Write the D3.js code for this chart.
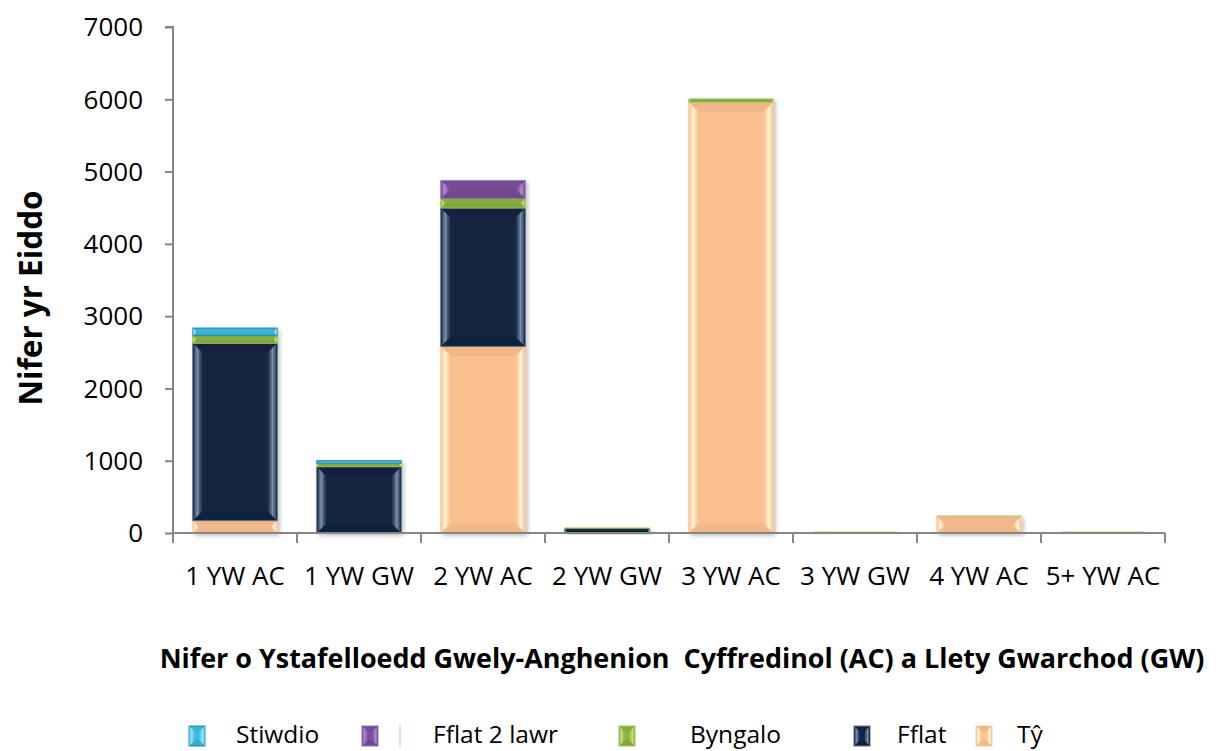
<!DOCTYPE html>
<html>
<head>
<meta charset="utf-8">
<script src="https://cdn.jsdelivr.net/npm/d3@7"></script>
<style>
  html, body { margin: 0; padding: 0; background: #fff; }
  svg { display: block; font-family: "Open Sans", "Liberation Sans", sans-serif; }
</style>
</head>
<body>
<svg id="chart" width="1217" height="751"></svg>
<script>
// ---- data ----
const categories = ["1 YW AC", "1 YW GW", "2 YW AC", "2 YW GW", "3 YW AC", "3 YW GW", "4 YW AC", "5+ YW AC"];
const ty        = [170,    0, 2580,  5, 5960, 8, 230, 8];
const fflat     = [2457, 918, 1917, 55,    0, 5,   0, 0];
const byngalo   = [102,   47,  129, 15,   45, 5,  10, 10];
const fflat2    = [0,      0,  249,  0,    0, 0,   0, 0];
const stiwdio   = [106,   36,    0,  0,    0, 0,   0, 0];
const seriesNames = ["Tŷ", "Fflat", "Byngalo", "Fflat 2 lawr", "Stiwdio"];   // bottom -> top
const legendOrder = ["Stiwdio", "Fflat 2 lawr", "Byngalo", "Fflat", "Tŷ"];
const yTicks = [0, 1000, 2000, 3000, 4000, 5000, 6000, 7000];
const yTitle = "Nifer yr Eiddo";
const xTitle = "Nifer o Ystafelloedd Gwely-Anghenion  Cyffredinol (AC) a Llety Gwarchod (GW)";

// ---- styles ----
const colors = { "Tŷ": "#FAC090", "Fflat": "#132641", "Byngalo": "#8DB53A", "Fflat 2 lawr": "#7A4F9C", "Stiwdio": "#3CBCE0" };
const lights = { "Tŷ": "#FFF6D6", "Fflat": "#7C90AC", "Byngalo": "#C6E27A", "Fflat 2 lawr": "#B08AD0", "Stiwdio": "#9CE6FA" };
const borders = { "Tŷ": "#F7D2AE", "Fflat": "#6A7C93", "Byngalo": "#A8C870", "Fflat 2 lawr": "#9A7AB8", "Stiwdio": "#2C8AA8" };
const bottomShade = { "Tŷ": 0.03, "Fflat": 0.1, "Byngalo": 0.08, "Fflat 2 lawr": 0.08, "Stiwdio": 0.08 };

const valuesBy = { "Tŷ": ty, "Fflat": fflat, "Byngalo": byngalo, "Fflat 2 lawr": fflat2, "Stiwdio": stiwdio };
const table = categories.map((c, i) => {
  const row = { cat: c };
  seriesNames.forEach(s => row[s] = valuesBy[s][i]);
  return row;
});

const svg = d3.select("#chart");
const pLeft = 173, pRight = 1165, pTop = 27, pBottom = 533;

const x = d3.scaleBand().domain(categories).range([pLeft, pRight]).paddingInner(0.32).paddingOuter(0.16);
const y = d3.scaleLinear().domain([0, 7000]).range([pBottom, pTop]);

const stack = d3.stack().keys(seriesNames)(table);

// defs: gradients + shadow
const defs = svg.append("defs");
const f = defs.append("filter").attr("id", "shadow").attr("x", "-10%").attr("y", "-10%").attr("width", "130%").attr("height", "130%");
f.append("feDropShadow").attr("dx", 2).attr("dy", 2).attr("stdDeviation", 2).attr("flood-color", "#000").attr("flood-opacity", 0.25);

seriesNames.forEach((s, i) => {
  const gl = defs.append("linearGradient").attr("id", "gl" + i).attr("x1", 0).attr("x2", 1).attr("y1", 0).attr("y2", 0);
  gl.append("stop").attr("offset", "0%").attr("stop-color", colors[s]);
  gl.append("stop").attr("offset", "45%").attr("stop-color", lights[s]);
  gl.append("stop").attr("offset", "100%").attr("stop-color", colors[s]).attr("stop-opacity", 0.6);
  const gr = defs.append("linearGradient").attr("id", "gr" + i).attr("x1", 1).attr("x2", 0).attr("y1", 0).attr("y2", 0);
  gr.append("stop").attr("offset", "0%").attr("stop-color", colors[s]);
  gr.append("stop").attr("offset", "45%").attr("stop-color", lights[s]);
  gr.append("stop").attr("offset", "100%").attr("stop-color", colors[s]).attr("stop-opacity", 0.6);
});

// bevelled box
function bevel(g, bx, by, bw, bh, s, i, maxB) {
  if (bh <= 0) return;
  const b = Math.min(maxB, bh / 2, bw / 2);
  g.append("rect").attr("x", bx).attr("y", by).attr("width", bw).attr("height", bh)
    .attr("fill", colors[s]).attr("stroke", borders[s]).attr("stroke-width", bh > 2 ? 1 : 0);
  if (bh < 3) return;
  g.append("polygon").attr("points", [[bx, by], [bx + bw, by], [bx + bw - b, by + b], [bx + b, by + b]].join(" "))
    .attr("fill", "#000").attr("opacity", 0.04);
  g.append("polygon").attr("points", [[bx, by + bh], [bx + bw, by + bh], [bx + bw - b, by + bh - b], [bx + b, by + bh - b]].join(" "))
    .attr("fill", "#000").attr("opacity", bottomShade[s]);
  g.append("polygon").attr("points", [[bx, by], [bx + b, by + b], [bx + b, by + bh - b], [bx, by + bh]].join(" "))
    .attr("fill", `url(#gl${i})`);
  g.append("polygon").attr("points", [[bx + bw, by], [bx + bw - b, by + b], [bx + bw - b, by + bh - b], [bx + bw, by + bh]].join(" "))
    .attr("fill", `url(#gr${i})`);
}

// bars
const barsG = svg.append("g");
categories.forEach((c, ci) => {
  const g = barsG.append("g").attr("filter", "url(#shadow)");
  stack.forEach((layer, si) => {
    const d = layer[ci];
    const y0 = y(d[0]), y1 = y(d[1]);
    const h = y0 - y1;
    if (h <= 0) return;
    bevel(g, x(c), y1, x.bandwidth(), h, layer.key, si, 10);
  });
});

// axes
const axisColor = "#868686";
const yAxis = svg.append("g").attr("transform", `translate(${pLeft},0)`)
  .call(d3.axisLeft(y).tickValues(yTicks).tickSize(8).tickPadding(22).tickFormat(d3.format("d")));
yAxis.select(".domain").attr("stroke", axisColor).attr("stroke-width", 2).attr("d", `M-8,${pTop}H0V${pBottom}`);
yAxis.selectAll(".tick line").attr("stroke", axisColor).attr("stroke-width", 2);
yAxis.selectAll(".tick text").attr("font-size", 26).attr("fill", "#000")
  .attr("font-family", "'Open Sans', sans-serif").attr("dy", "0.34em");

const xAxis = svg.append("g").attr("transform", `translate(0,${pBottom})`)
  .call(d3.axisBottom(x).tickSize(0).tickPadding(34));
xAxis.select(".domain").attr("stroke", axisColor).attr("stroke-width", 2).attr("d", `M${pLeft},0H${pRight}`);
xAxis.selectAll(".tick text").attr("font-size", 26).attr("fill", "#000").attr("font-family", "'Open Sans', sans-serif");
const bounds = d3.range(categories.length + 1).map(i => pLeft + i * x.step());
xAxis.selectAll(".bound").data(bounds).join("line").attr("class", "bound")
  .attr("x1", d => d).attr("x2", d => d).attr("y1", 0).attr("y2", 10)
  .attr("stroke", axisColor).attr("stroke-width", 2);

// titles (fitted to the reference widths)
function fit(sel, target) {
  const len = sel.node().getComputedTextLength();
  const fs = parseFloat(sel.attr("font-size"));
  sel.attr("font-size", fs * target / len);
}
const yt = svg.append("text").attr("transform", `translate(42,298) rotate(-90)`)
  .attr("text-anchor", "middle").attr("font-weight", "bold").attr("font-size", 26).text(yTitle);
fit(yt, 215);
const xt = svg.append("text").attr("x", 682).attr("y", 668)
  .attr("text-anchor", "middle").attr("font-weight", "bold").attr("font-size", 22)
  .style("white-space", "pre").text(xTitle);
fit(xt, 1045);

// legend
const legendMarkX = { "Stiwdio": 189, "Fflat 2 lawr": 362, "Byngalo": 619, "Fflat": 854, "Tŷ": 976 };
const legendTextX = { "Stiwdio": 236, "Fflat 2 lawr": 433, "Byngalo": 690, "Fflat": 897, "Tŷ": 1017 };
const lg = svg.append("g");
legendOrder.forEach(s => {
  const si = seriesNames.indexOf(s);
  const g = lg.append("g");
  bevel(g, legendMarkX[s], 726, 16, 20, s, si, 6);
  lg.append("text").attr("x", legendTextX[s]).attr("y", 743).attr("font-size", 24.5).attr("fill", "#000").text(s);
});
lg.append("line").attr("x1", 400).attr("x2", 400).attr("y1", 725).attr("y2", 747).attr("stroke", "#F0B888").attr("stroke-width", 1);
</script>
</body>
</html>
